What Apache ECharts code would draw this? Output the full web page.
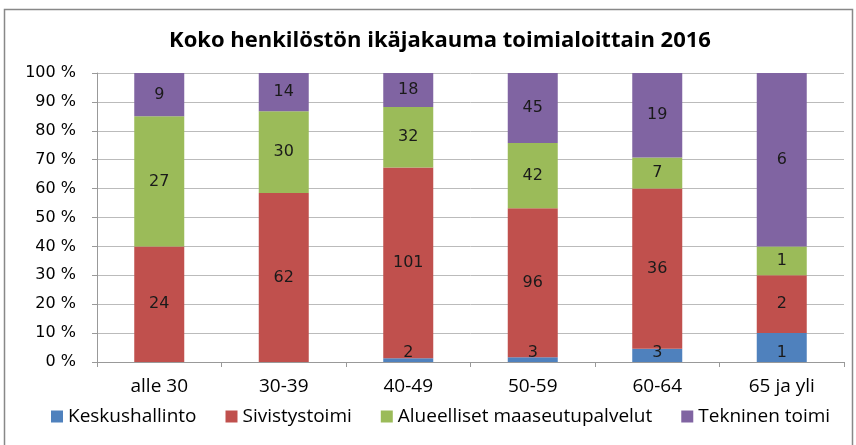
<!DOCTYPE html>
<html>
<head>
<meta charset="utf-8">
<script src="https://cdn.jsdelivr.net/npm/echarts@6/dist/echarts.min.js"></script>
<style>
  html, body { margin: 0; padding: 0; background: #fff; }
  #chart { width: 856px; height: 445px; }
</style>
</head>
<body>
<div id="chart"></div>
<script>
const categories = ['alle 30', '30-39', '40-49', '50-59', '60-64', '65 ja yli'];
const keskushallinto = [0, 0, 2, 3, 3, 1];
const sivistystoimi = [24, 62, 101, 96, 36, 2];
const alueelliset = [27, 30, 32, 42, 7, 1];
const tekninen = [9, 14, 18, 45, 19, 6];
const yTicks = ['0 %', '10 %', '20 %', '30 %', '40 %', '50 %', '60 %', '70 %', '80 %', '90 %', '100 %'];

const totals = categories.map((c, i) =>
    keskushallinto[i] + sivistystoimi[i] + alueelliset[i] + tekninen[i]);

const toShare = arr => arr.map((v, i) => ({ value: v / totals[i] * 100, count: v }));

const font = '"Open Sans", Lato, sans-serif';
const verdana = '"DejaVu Sans", Verdana, sans-serif';

function makeSeries(name, arr, color, labelPos) {
    return {
        name: name,
        type: 'bar',
        stack: 'total',
        barWidth: 50,
        data: toShare(arr),
        itemStyle: { color: color },
        label: {
            show: true,
            position: labelPos || 'inside',
            distance: 1,
            color: '#1a1a1a',
            fontFamily: verdana,
            fontSize: 16,
            formatter: p => p.data.count ? String(p.data.count) : ''
        }
    };
}

const chart = echarts.init(document.getElementById('chart'));

chart.setOption({
    animation: false,
    title: {
        text: 'Koko henkilöstön ikäjakauma toimialoittain 2016',
        left: 435,
        textAlign: 'center',
        top: 25,
        textStyle: { fontFamily: font, fontWeight: 'bold', fontSize: 22, color: '#000' }
    },
    graphic: [{
        type: 'rect',
        shape: { x: 4.5, y: 9.5, width: 848, height: 460 },
        style: { fill: 'none', stroke: '#888', lineWidth: 1.5 },
        silent: true
    }],
    legend: {
        left: 46,
        top: 402,
        icon: 'rect',
        itemWidth: 12,
        itemHeight: 12,
        itemGap: 29,
        textStyle: { fontFamily: font, fontSize: 19, color: '#000' },
        data: ['Keskushallinto', 'Sivistystoimi', 'Alueelliset maaseutupalvelut', 'Tekninen toimi']
    },
    grid: { left: 97, right: 12, top: 73, bottom: 83 },
    xAxis: {
        type: 'category',
        data: categories,
        axisLine: { lineStyle: { color: '#999' } },
        axisTick: { show: true, length: 5, inside: false, lineStyle: { color: '#999' } },
        axisLabel: { margin: 15, fontFamily: font, fontSize: 19, color: '#000' }
    },
    yAxis: {
        type: 'value',
        min: 0,
        max: 100,
        interval: 10,
        axisLine: { show: true, lineStyle: { color: '#999' } },
        axisTick: { show: true, length: 5, lineStyle: { color: '#999' } },
        splitLine: { lineStyle: { color: '#bbb' } },
        axisLabel: {
            margin: 21,
            fontFamily: verdana,
            fontSize: 16,
            color: '#000',
            formatter: v => yTicks[Math.round(v / 10)]
        }
    },
    series: [
        makeSeries('Keskushallinto', keskushallinto, '#4F81BD', 'insideBottom'),
        makeSeries('Sivistystoimi', sivistystoimi, '#C0504D'),
        makeSeries('Alueelliset maaseutupalvelut', alueelliset, '#9BBB59'),
        makeSeries('Tekninen toimi', tekninen, '#8064A2')
    ]
});

window.addEventListener('resize', () => chart.resize());
</script>
</body>
</html>
